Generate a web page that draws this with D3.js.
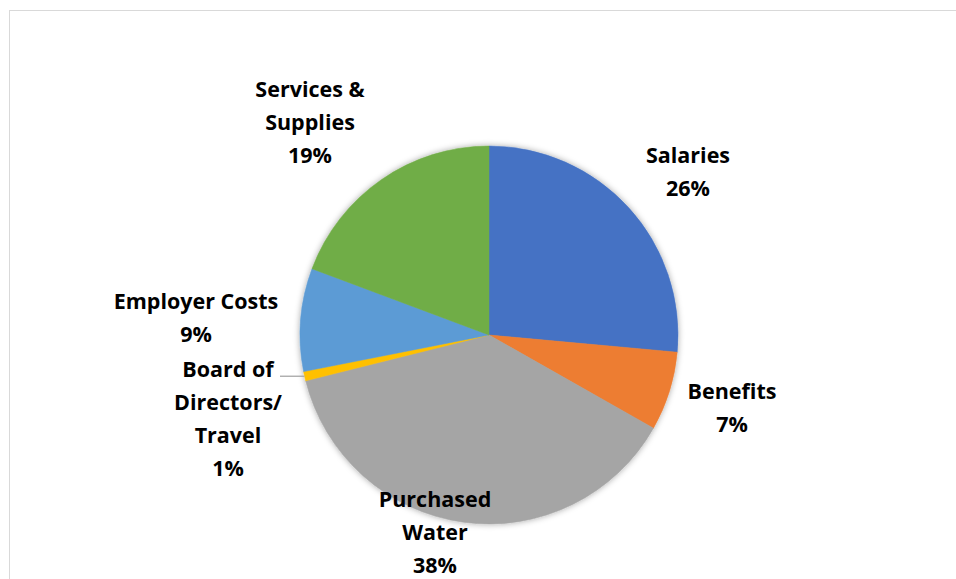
<!DOCTYPE html>
<html>
<head>
<meta charset="utf-8">
<script src="https://cdn.jsdelivr.net/npm/d3@7/dist/d3.min.js"></script>
<style>
  html, body { margin: 0; padding: 0; background: #fff; }
  svg { display: block; }
</style>
</head>
<body>
<svg id="chart" width="956" height="579"></svg>
<script>
// ---- data ----
const categories = ["Salaries", "Benefits", "Purchased Water", "Board of Directors/ Travel", "Employer Costs", "Services & Supplies"];
const values = [26.45, 6.75, 37.9, 0.8, 8.8, 19.3];
const colors = ["#4472C4", "#ED7D31", "#A5A5A5", "#FFC000", "#5B9BD5", "#70AD47"];
const labelLines = [
  ["Salaries"],
  ["Benefits"],
  ["Purchased", "Water"],
  ["Board of", "Directors/", "Travel"],
  ["Employer Costs"],
  ["Services &", "Supplies"]
];

// ---- layout ----
const W = 956, H = 579;
const cx = 489, cy = 335, R = 189;
const lineH = 33;
const fontSize = 21.5;
// label block top-line centres
const labelPos = [
  [688, 155],
  [732, 391],
  [435, 499],
  [228, 369],
  [196, 301],
  [310, 89]
];

const svg = d3.select("#chart");

// chart border
svg.append("rect")
  .attr("x", 9.5).attr("y", 10.5)
  .attr("width", 960).attr("height", 600)
  .attr("fill", "none").attr("stroke", "#d9d9d9").attr("stroke-width", 1);

const defs = svg.append("defs");
const f = defs.append("filter").attr("id", "glow")
  .attr("x", "-20%").attr("y", "-20%").attr("width", "140%").attr("height", "140%");
f.append("feDropShadow").attr("dx", 0).attr("dy", 0).attr("stdDeviation", 3)
  .attr("flood-color", "#000").attr("flood-opacity", 0.35);

const data = categories.map((c, i) => ({ name: c, value: values[i], color: colors[i], lines: labelLines[i], pos: labelPos[i] }));
const total = d3.sum(values);

const pie = d3.pie().sort(null).value(d => d.value).startAngle(0).endAngle(2 * Math.PI);
const arcs = pie(data);
const arc = d3.arc().innerRadius(0).outerRadius(R);

const g = svg.append("g").attr("transform", `translate(${cx},${cy})`);
const gp = g.append("g").attr("filter", "url(#glow)");
gp.selectAll("path").data(arcs).enter().append("path")
  .attr("d", arc)
  .attr("fill", d => d.data.color)
  .attr("stroke", d => d.data.color)
  .attr("stroke-width", 0.5);

// leader line for Board of Directors
const bd = arcs[3];
const mid = (bd.startAngle + bd.endAngle) / 2;
const ex = cx + R * Math.sin(mid), ey = cy - R * Math.cos(mid);
svg.append("line")
  .attr("x1", 280).attr("y1", ey).attr("x2", ex).attr("y2", ey)
  .attr("stroke", "#a6a6a6").attr("stroke-width", 1.3);

const fmt = d3.format(".0%");
const lab = svg.append("g")
  .attr("font-family", "'Open Sans', 'Noto Sans', sans-serif")
  .attr("font-weight", "bold")
  .attr("font-size", fontSize)
  .attr("fill", "#000")
  .attr("text-anchor", "middle");

data.forEach(d => {
  const lines = d.lines.concat([fmt(d.value / total)]);
  const t = lab.append("text");
  lines.forEach((ln, k) => {
    t.append("tspan")
      .attr("x", d.pos[0])
      .attr("y", d.pos[1] + k * lineH)
      .attr("dy", "0.35em")
      .text(ln);
  });
});
</script>
</body>
</html>
